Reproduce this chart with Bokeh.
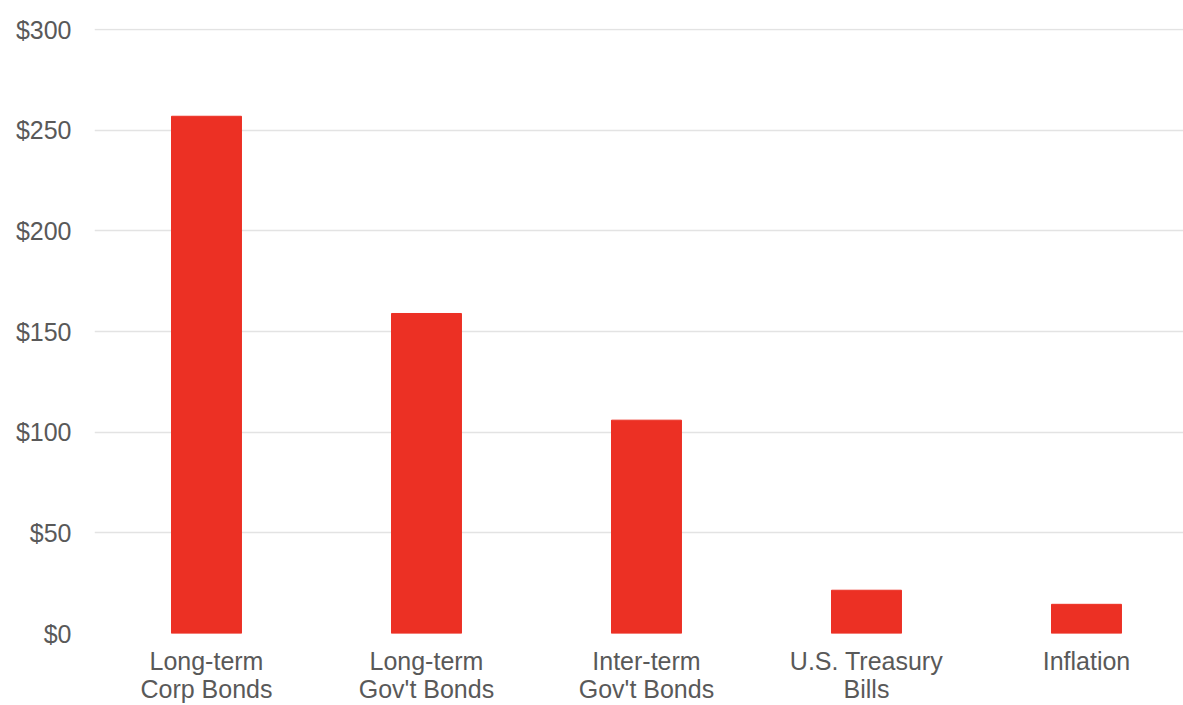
from bokeh.plotting import figure
from bokeh.models import Range1d, FixedTicker, NumeralTickFormatter, ColumnDataSource
from bokeh.embed import file_html
from bokeh.resources import INLINE

categories = ["Long-term\nCorp Bonds", "Long-term\nGov't Bonds", "Inter-term\nGov't Bonds",
              "U.S. Treasury\nBills", "Inflation"]
values = [257, 159, 106, 21.5, 14.5]
y_ticks = [0, 50, 100, 150, 200, 250, 300]

positions = list(range(len(categories)))
src = ColumnDataSource(dict(x=positions, top=values, cat=categories))

p = figure(width=1183, height=705, output_backend="svg", toolbar_location=None,
           x_range=Range1d(-0.509, 4.441), y_range=Range1d(0, 300.6),
           min_border_left=94, min_border_right=0, min_border_top=28, min_border_bottom=72)
p.outline_line_color = None
p.background_fill_color = "white"
p.border_fill_color = "white"

p.vbar(x="x", top="top", width=0.318, bottom=0, source=src, color="#EC3024")

FONT = "Liberation Sans"
GRAY = "#595959"

p.xaxis.ticker = FixedTicker(ticks=positions)
p.xaxis.major_label_overrides = {i: c for i, c in zip(positions, categories)}
p.xaxis.axis_line_color = None
p.xaxis.major_tick_line_color = None
p.xaxis.minor_tick_line_color = None
p.xaxis.major_label_text_font = FONT
p.xaxis.major_label_text_font_size = "25px"
p.xaxis.major_label_text_line_height = 1.0
p.xaxis.major_label_text_color = GRAY
p.xaxis.major_label_standoff = 7
p.xgrid.grid_line_color = None

p.yaxis.ticker = FixedTicker(ticks=y_ticks)
p.yaxis.formatter = NumeralTickFormatter(format="$0")
p.yaxis.axis_line_color = None
p.yaxis.major_tick_line_color = None
p.yaxis.minor_tick_line_color = None
p.yaxis.major_label_text_font = FONT
p.yaxis.major_label_text_font_size = "25px"
p.yaxis.major_label_text_color = GRAY
p.yaxis.major_label_standoff = 17
p.ygrid.grid_line_color = "#E3E3E3"
p.ygrid.grid_line_width = 1.5

open("out.html", "w").write(file_html(p, INLINE))
